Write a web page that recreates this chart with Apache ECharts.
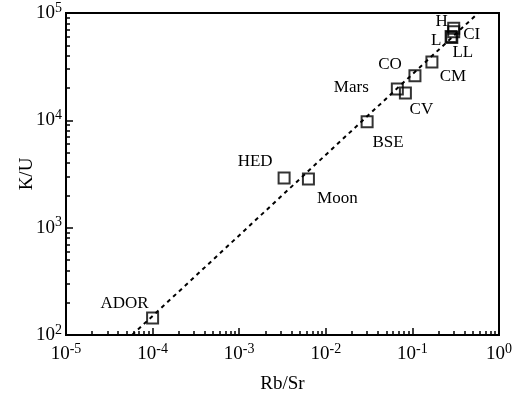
<!DOCTYPE html>
<html>
<head>
<meta charset="utf-8">
<script src="https://cdn.jsdelivr.net/npm/echarts@6/dist/echarts.min.js"></script>
<style>
  html, body { margin: 0; padding: 0; background: #fff; }
  #chart { width: 515px; height: 404px; }
</style>
</head>
<body>
<div id="chart"></div>
<script>
// 샘플 이름, Rb/Sr, K/U
const names = ['ADOR', 'HED', 'Moon', 'BSE', 'Mars', 'CV', 'CO', 'CM', 'LL', 'L', 'CI', 'H'];
const rbSr = [1.0e-4, 3.3e-3, 6.3e-3, 0.030, 0.067, 0.083, 0.107, 0.168, 0.285, 0.28, 0.30, 0.30];
const kU = [144, 2900, 2840, 9700, 19600, 18000, 26000, 35000, 59000, 60500, 67000, 72000];

// 점선 추세선 양 끝 (Rb/Sr, K/U)
const fitX = [5.8e-5, 0.575];
const fitY = [100, 100000];

// 라벨 위치 (점 기준 픽셀 오프셋)
const labelOffsets = {
  ADOR: [-28, -14], HED: [-29, -17], Moon: [29, 20], BSE: [21, 21],
  Mars: [-46, -1], CV: [16, 17], CO: [-25, -11], CM: [21, 15],
  LL: [11, 15], L: [-15, 4], CI: [18, 3], H: [-12, -7]
};

const FONT = '"Liberation Serif", "Times New Roman", serif';

const chart = echarts.init(document.getElementById('chart'));

function powLabel(v) {
  const e = Math.round(Math.log10(v));
  return '{b|10}{s|' + e + '}';
}
const richPow = {
  b: { fontFamily: FONT, fontSize: 19, color: '#000' },
  s: { fontFamily: FONT, fontSize: 14, color: '#000', padding: [0, 0, 10, 0] }
};

const points = names.map((n, i) => ({
  value: [rbSr[i], kU[i]],
  label: { offset: labelOffsets[n] }
}));

const option = {
  animation: false,
  grid: { left: 66, right: 11, top: 13, bottom: 69, show: true, borderColor: '#000', borderWidth: 2 },
  xAxis: {
    type: 'log', min: 1e-5, max: 1, logBase: 10,
    name: 'Rb/Sr', nameLocation: 'middle', nameGap: 40, nameMoveOverlap: false,
    nameTextStyle: { fontFamily: FONT, fontSize: 19, color: '#000' },
    axisLine: { lineStyle: { color: '#000', width: 2 } },
    axisTick: { inside: true, length: 7, lineStyle: { color: '#000', width: 1.5 } },
    minorTick: { show: true, splitNumber: 9, length: 4, lineStyle: { color: '#000', width: 1.5 } },
    splitLine: { show: false },
    axisLabel: { formatter: powLabel, rich: richPow, margin: 7 }
  },
  yAxis: {
    type: 'log', min: 100, max: 100000, logBase: 10,
    name: 'K/U', nameLocation: 'middle', nameGap: 29, nameMoveOverlap: false,
    nameTextStyle: { fontFamily: FONT, fontSize: 19, color: '#000' },
    axisLine: { lineStyle: { color: '#000', width: 2 } },
    axisTick: { inside: true, length: 7, lineStyle: { color: '#000', width: 1.5 } },
    minorTick: { show: true, splitNumber: 9, length: 4, lineStyle: { color: '#000', width: 1.5 } },
    splitLine: { show: false },
    axisLabel: { formatter: powLabel, rich: richPow, margin: 4 }
  },
  series: [
    {
      type: 'line',
      data: fitX.map((x, i) => [x, fitY[i]]),
      symbol: 'none',
      lineStyle: { color: '#000', width: 2, type: [4, 4] },
      z: 1
    },
    {
      type: 'scatter',
      data: points,
      symbol: 'rect',
      symbolSize: 11,
      itemStyle: { color: 'rgba(255,255,255,0)', borderColor: '#000', borderWidth: 2 },
      label: {
        show: true, position: 'inside',
        formatter: (p) => names[p.dataIndex],
        fontFamily: FONT, fontSize: 17, color: '#000',
        textBorderWidth: 0, opacity: 1
      },
      z: 2
    }
  ]
};

chart.setOption(option);
</script>
</body>
</html>
